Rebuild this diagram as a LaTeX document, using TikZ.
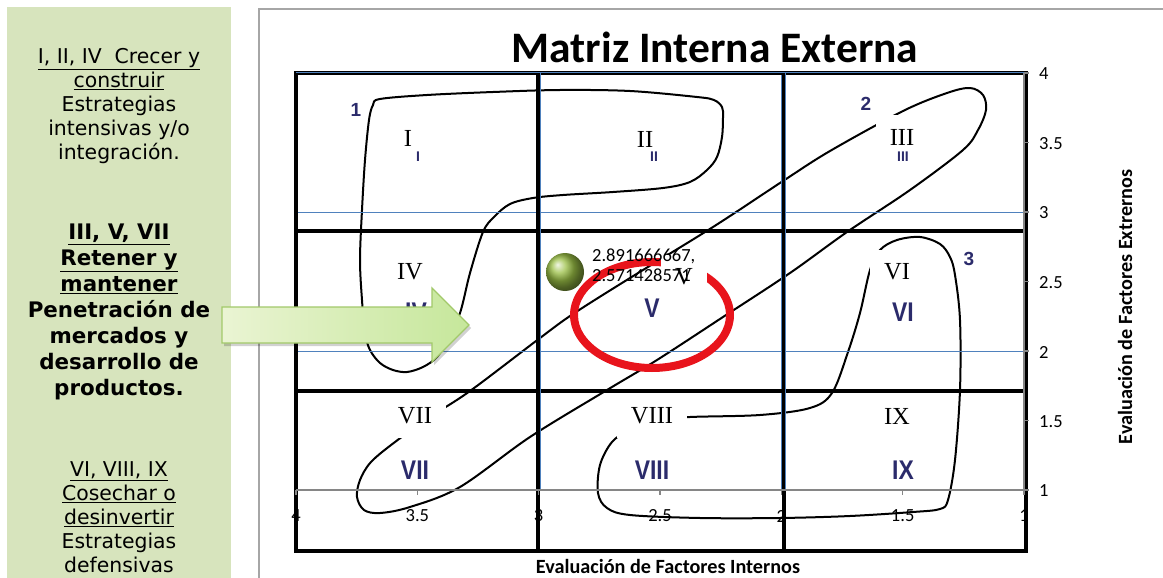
\documentclass[tikz,border=0pt]{standalone}
\usepackage{fontspec}
\usepackage{graphicx}
\newfontfamily\chartfont{Carlito}
\newfontfamily\panelfont{DejaVu Sans}
\newfontfamily\romfont{Liberation Serif}
\newfontfamily\numfont{Liberation Sans}
\definecolor{panelgreen}{HTML}{D7E4BD}
\definecolor{gridblue}{HTML}{4F81BD}
\definecolor{axisgray}{HTML}{868686}
\definecolor{borderg}{HTML}{A6A6A6}
\definecolor{numnavy}{HTML}{2B2B6B}
\definecolor{ringred}{HTML}{E8141C}
\definecolor{ballgreen}{HTML}{9ABF45}
\definecolor{arrowL}{HTML}{EAF4D3}
\definecolor{arrowR}{HTML}{C6E79B}
\definecolor{arrowB}{HTML}{A2C96A}
\begin{document}
\begin{tikzpicture}[x=1pt,y=-1pt,
  panelbox/.style={align=center,inner sep=0pt,font=\panelfont\fontsize{20.4}{24}\selectfont},
  panelbold/.style={align=center,inner sep=0pt,font=\panelfont\bfseries\fontsize{21.4}{26}\selectfont},
  thickgrid/.style={line width=3.6pt,black},
  bluegrid/.style={line width=1pt,gridblue},
  axisline/.style={line width=1.2pt,axisgray},
  curveline/.style={line width=2pt,black,line join=round},
  romlbl/.style={fill=white,inner xsep=14pt,minimum height=44pt,font=\romfont\fontsize{24.5}{24.5}\selectfont},
  bignum/.style={text=numnavy,inner sep=0pt,font=\numfont\bfseries\fontsize{27}{27}\selectfont},
  smallnum/.style={text=numnavy,inner sep=0pt,font=\numfont\bfseries\fontsize{14}{14}\selectfont},
  zonenum/.style={text=numnavy,inner sep=0pt,font=\numfont\bfseries\fontsize{19}{19}\selectfont},
  ticklbl/.style={inner sep=0pt,font=\chartfont\fontsize{18.5}{18.5}\selectfont},
  axtitle/.style={inner sep=0pt,font=\chartfont\bfseries\fontsize{20.2}{20.2}\selectfont}
]
\useasboundingbox (0,0) rectangle (1163,578);
\fill[white] (0,0) rectangle (1163,578);

% left panel
\fill[panelgreen] (7,7) rectangle (231,578);
\node[panelbox] (g1) at (119,106) {\underline{I, II, IV\ \ Crecer y}\\\underline{construir}\\Estrategias\\intensivas y/o\\integración.};
\node[panelbold] (g2) at (119,312) {\underline{III, V, VII}\\\underline{Retener y}\\\underline{mantener}\\Penetración de\\mercados y\\desarrollo de\\productos.};
\node[panelbox] (g3) at (119,517) {\underline{VI, VIII, IX}\\\underline{Cosechar o}\\\underline{desinvertir}\\Estrategias\\defensivas};

% chart border
\draw[borderg,line width=1.5pt] (259,578) -- (259,9) -- (1163,9);

% title
\node[inner sep=0pt,font=\chartfont\bfseries\fontsize{43.5}{43.5}\selectfont] (title) at (715,47) {Matriz Interna Externa};

% curves
\draw[curveline] plot[smooth cycle,tension=0.55] coordinates {
 (380,99) (427,95) (493,92) (560,90) (630,91) (697,97) (714,100) (722,107) (723,117) (722,137) (717,157) (707,170) (690,182) (663,188) (613,192) (563,195) (533,198) (510,204) (494,217) (483,232) (470,273) (460,313) (447,340) (437,357) (423,367) (407,372) (393,370) (380,363) (370,350) (365,333) (362,300) (360,260) (362,210) (365,160) (369,120) (373,105)};
\draw[curveline] plot[smooth cycle,tension=0.55] coordinates {
 (357,497) (364,510) (380,513) (410,507) (460,487) (530,437) (607,390) (657,360) (723,317) (790,273) (847,232) (910,190) (963,150) (978,130) (986,110) (983,95) (970,88) (947,93) (903,111) (830,151) (783,181) (713,227) (630,278) (573,314) (540,338) (470,391) (430,417) (395,442) (371,462) (360,480)};
\draw[curveline] plot[smooth cycle,tension=0.55] coordinates {
 (897,240) (920,237) (940,244) (950,257) (955,275) (960,320) (960,390) (955,460) (948,500) (940,509) (913,512) (850,516) (780,518) (700,518) (630,515) (607,508) (598,493) (600,465) (612,442) (630,430) (660,420) (690,417) (760,415) (810,408) (832,393) (848,352) (860,313) (870,270) (880,250)};

% labels with white boxes
\node[romlbl] (rI) at (408,138) {I};
\node[romlbl] (rII) at (645,139) {II};
\node[romlbl] (rIII) at (902,137) {III};
\node[romlbl] (rIV) at (410,272) {IV};
\node[romlbl] (rVI) at (897,272) {VI};
\node[romlbl] (rVII) at (415,416) {VII};
\node[romlbl] (rVIII) at (652,416) {VIII};
\node[romlbl] (rIX) at (897,416) {IX};

% blue grid
\foreach \yy in {73,212,351} \draw[bluegrid] (296,\yy) -- (1024,\yy);
\foreach \xx in {296,538.7,781.3} \draw[bluegrid] (\xx,73) -- (\xx,490);

% thick black frame
\draw[thickgrid] (296,73) rectangle (1026,551);
\draw[thickgrid] (538,73) -- (538,551);
\draw[thickgrid] (784,73) -- (784,551);
\draw[thickgrid] (296,231) -- (1026,231);
\draw[thickgrid] (296,391) -- (1026,391);
\draw[bluegrid] (296,73) -- (1024,73);
\draw[bluegrid] (540,73) -- (540,490);
\draw[bluegrid] (785,73) -- (785,490);

% axes
\draw[axisline] (296,490) -- (1024,490);
\draw[axisline] (1024,73) -- (1024,490);
\foreach \v [count=\i] in {4,3.5,3,2.5,2,1.5,1} {
  \draw[axisline] ({296+(4-\v)*242.67},490) -- ++(0,5);
  \draw[axisline] (1024,{490-(\v-1)*139}) -- ++(5,0);
  \node[ticklbl,anchor=west] (yt\i) at (1039,{491-(\v-1)*139}) {\v};
  \node[ticklbl] (xt\i) at ({296+(4-\v)*242.67},516) {\v};
}

% zone numbers and blue numerals
\node[zonenum] (z1) at (356,110) {1};
\node[zonenum] (z2) at (866,104) {2};
\node[zonenum] (z3) at (969,259) {3};
\node[smallnum] (bI) at (418,157) {I};
\node[smallnum] (bII) at (654,157) {II};
\node[smallnum] (bIII) at (903,157) {III};
\node[bignum] (bIV) at (416,312) {\scalebox{0.85}[1]{IV}};
\node[bignum] (bV) at (652,308) {\scalebox{0.85}[1]{V}};
\node[bignum] (bVI) at (903,312) {\scalebox{0.85}[1]{VI}};
\node[bignum] (bVII) at (415,470) {\scalebox{0.85}[1]{VII}};
\node[bignum] (bVIII) at (652,470) {\scalebox{0.85}[1]{VIII}};
\node[bignum] (bIX) at (903,470) {\scalebox{0.85}[1]{IX}};

% axis titles
\node[axtitle] (xtitle) at (668,566) {Evaluación de Factores Internos};
\node[axtitle,rotate=90] (ytitle) at (1125,307) {Evaluación de Factores Extrernos};

% arrow
\fill[black,opacity=0.18] (224,310) -- (434,310) -- (434,291) -- (471,328) -- (434,365) -- (434,346) -- (224,346) -- cycle;
\path[left color=arrowL,right color=arrowR,draw=arrowB,line width=1.3pt] (222,307) -- (432,307) -- (432,288) -- (469,325) -- (432,362) -- (432,343) -- (222,343) -- cycle;

% data point, red ring, V label, data label
\shade[ball color=ballgreen] (565,272) circle [radius=19pt];
\fill[ringred,even odd rule] (652,315) ellipse [x radius=82pt, y radius=57pt] (652,315) ellipse [x radius=74pt, y radius=49pt];
\node[romlbl] (rV) at (684,277) {V};
\node[anchor=west,align=left,inner sep=0pt,font=\chartfont\fontsize{18.5}{20}\selectfont] (dlab) at (592,265) {2.891666667,\\2.571428571};
\end{tikzpicture}
\end{document}
